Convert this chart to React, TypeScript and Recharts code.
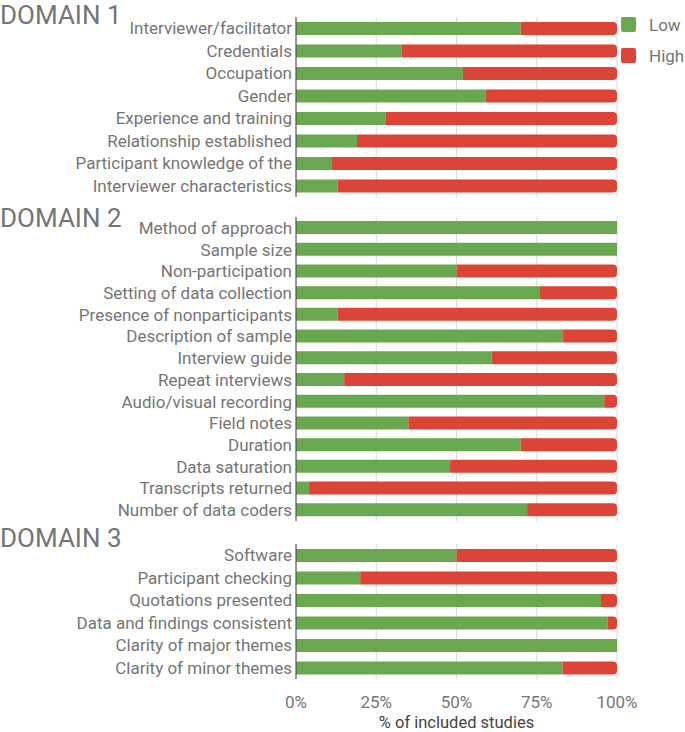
import React from 'react';
import { BarChart, Bar, XAxis, YAxis, CartesianGrid } from 'recharts';

const domain1Items = [
  `Interviewer/facilitator`,
  `Credentials`,
  `Occupation`,
  `Gender`,
  `Experience and training`,
  `Relationship established`,
  `Participant knowledge of the`,
  `Interviewer characteristics`,
];
const domain1Low = [70, 33, 52, 59, 28, 19, 11, 13];

const domain2Items = [
  `Method of approach`,
  `Sample size`,
  `Non-participation`,
  `Setting of data collection`,
  `Presence of nonparticipants`,
  `Description of sample`,
  `Interview guide`,
  `Repeat interviews`,
  `Audio/visual recording`,
  `Field notes`,
  `Duration`,
  `Data saturation`,
  `Transcripts returned`,
  `Number of data coders`,
];
const domain2Low = [100, 100, 50, 76, 13, 83, 61, 15, 96, 35, 70, 48, 4, 72];

const domain3Items = [
  `Software`,
  `Participant checking`,
  `Quotations presented`,
  `Data and findings consistent`,
  `Clarity of major themes`,
  `Clarity of minor themes`,
];
const domain3Low = [50, 20, 95, 97, 100, 83];

const xTicks = [0, 25, 50, 75, 100];

const GREEN = `#6aa84f`;
const RED = `#db4437`;
const GREY = `#757575`;
const FONT = 17;

const toRows = (items: string[], low: number[]) =>
  items.map((name, i) => ({ name, low: low[i], high: 100 - low[i] }));

const LegendBox = () => (
  <div style={{ position: `absolute`, left: 621, top: 9, fontFamily: `Roboto`, fontSize: FONT, color: GREY }}>
    {[
      { label: `Low`, color: GREEN },
      { label: `High`, color: RED },
    ].map((d) => (
      <div key={d.label} style={{ display: `flex`, alignItems: `center`, height: 31 }}>
        <span
          style={{
            display: `inline-block`,
            width: 15,
            height: 15,
            borderRadius: 2,
            background: d.color,
            marginRight: 13,
          }}
        />
        {d.label}
      </div>
    ))}
  </div>
);

const DomainChart = ({ rows, top, height, marginTop, showAxis }) => (
  <div style={{ position: `absolute`, left: 0, top }}>
    <BarChart
      width={685}
      height={height}
      data={rows}
      layout="vertical"
      barSize={13}
      margin={{ top: marginTop, right: 68, bottom: 3, left: 0 }}
    >
      <CartesianGrid horizontal={false} stroke="#dadada" />
      <XAxis
        type="number"
        domain={[0, 100]}
        ticks={xTicks}
        hide={!showAxis}
        height={50}
        axisLine={false}
        tickLine={false}
        tickMargin={11}
        tick={{ fill: GREY, fontSize: FONT }}
        tickFormatter={(v) => `${v}%`}
        label={{ value: `% of included studies`, position: `insideBottom`, offset: 1, fill: `#444`, fontSize: 16.5 }}
      />
      <YAxis
        type="category"
        dataKey="name"
        width={296}
        tickLine={false}
        tickSize={2}
        tickMargin={2}
        axisLine={{ stroke: `#444` }}
        tick={{ fill: GREY, fontSize: FONT }}
        interval={0}
      />
      <Bar dataKey="low" stackId="a" fill={GREEN} isAnimationActive={false} />
      <Bar dataKey="high" stackId="a" fill={RED} radius={[0, 4, 4, 0]} isAnimationActive={false} />
    </BarChart>
  </div>
);

const titleStyle: React.CSSProperties = {
  position: `absolute`,
  left: 0,
  fontFamily: `Roboto`,
  fontSize: 26,
  lineHeight: `30px`,
  color: GREY,
  whiteSpace: `nowrap`,
};

export default function App() {
  return (
    <div style={{ position: `absolute`, left: 0, top: 0, width: 685, height: 732, overflow: `hidden`, fontFamily: `Roboto`, background: `#fff` }}>
      <DomainChart rows={toRows(domain1Items, domain1Low)} top={0} height={200} marginTop={17} showAxis={false} />
      <DomainChart rows={toRows(domain2Items, domain2Low)} top={200} height={324} marginTop={17} showAxis={false} />
      <DomainChart rows={toRows(domain3Items, domain3Low)} top={525} height={207} marginTop={19} showAxis />
      <LegendBox />
      <div style={{ ...titleStyle, top: 0 }}>DOMAIN 1</div>
      <div style={{ ...titleStyle, top: 203 }}>DOMAIN 2</div>
      <div style={{ ...titleStyle, top: 523 }}>DOMAIN 3</div>
    </div>
  );
}
